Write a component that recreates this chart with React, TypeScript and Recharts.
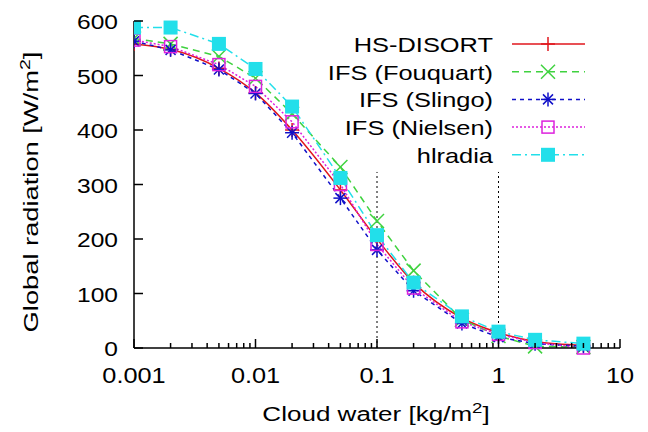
import { LineChart, Line, XAxis, YAxis, ReferenceLine, Legend } from 'recharts'

// Wolkenwasser-Stützstellen (kg/m²)
const cloudWater = [0.001, 0.002, 0.005, 0.01, 0.02, 0.05, 0.1, 0.2, 0.5, 1, 2, 5]

const hsDisort = [558, 548, 513, 468, 400, 290, 200, 120, 55, 28, 12, 5]
const ifsFouquart = [568, 558, 535, 495, 430, 332, 233, 142, 52, 22, 3, 2]
const ifsSlingo = [563, 547, 511, 467, 395, 275, 180, 105, 45, 20, 8, 3]
const ifsNielsen = [565, 553, 520, 480, 415, 300, 190, 110, 48, 25, 10, 0]
const hlradia = [588, 588, 558, 512, 443, 312, 207, 120, 58, 30, 15, 8]

const xMajorTicks = [0.001, 0.01, 0.1, 1, 10]
const xMinorFactors = [2, 3, 4, 5, 6, 7, 8, 9]
const yTicks = [0, 100, 200, 300, 400, 500, 600]
const gridX = [0.1, 1]

const FONT = '"Liberation Sans", Arial, sans-serif'

const xAllTicks: number[] = []
xMajorTicks.forEach((d, i) => {
  xAllTicks.push(d)
  if (i < xMajorTicks.length - 1) xMinorFactors.forEach((f) => xAllTicks.push(+(d * f).toPrecision(3)))
})

const isMajor = (v: number) => xMajorTicks.some((m) => Math.abs(m - v) < 1e-9)

const data = cloudWater.map((x, i) => ({
  x,
  hs: hsDisort[i],
  fq: ifsFouquart[i],
  sl: ifsSlingo[i],
  ni: ifsNielsen[i],
  hl: hlradia[i],
}))

type Kind = 'plus' | 'cross' | 'star' | 'square' | 'filled'

const series: { key: string; name: string; color: string; dash?: string; kind: Kind; type: 'monotone' | 'linear' }[] = [
  { key: 'hs', name: 'HS-DISORT', color: '#e0161c', kind: 'plus', type: 'monotone' },
  { key: 'fq', name: 'IFS (Fouquart)', color: '#3fd23f', dash: '7 5', kind: 'cross', type: 'linear' },
  { key: 'sl', name: 'IFS (Slingo)', color: '#1010c8', dash: '4 4', kind: 'star', type: 'linear' },
  { key: 'ni', name: 'IFS (Nielsen)', color: '#dd22dd', dash: '2 2', kind: 'square', type: 'linear' },
  { key: 'hl', name: 'hlradia', color: '#22dfea', dash: '9 4 2 4', kind: 'filled', type: 'linear' },
]

// gnuplot-Schrift ist breiter als Arial -> horizontal strecken
function WideText({ x, y, size, sx, anchor, children, rotate }: any) {
  const tf = `translate(${x} ${y})${rotate ? ` rotate(${rotate})` : ''} scale(${sx} 1)`
  return (
    <text transform={tf} textAnchor={anchor} fontSize={size} fontFamily={FONT} fill="#000">
      {children}
    </text>
  )
}

function Marker({ cx, cy, kind, color }: { cx: number; cy: number; kind: Kind; color: string }) {
  const s = 7
  if (kind === 'plus')
    return (
      <g stroke={color} strokeWidth={1.5}>
        <line x1={cx - s} y1={cy} x2={cx + s} y2={cy} />
        <line x1={cx} y1={cy - s} x2={cx} y2={cy + s} />
      </g>
    )
  if (kind === 'cross')
    return (
      <g stroke={color} strokeWidth={1.5}>
        <line x1={cx - s} y1={cy - s} x2={cx + s} y2={cy + s} />
        <line x1={cx - s} y1={cy + s} x2={cx + s} y2={cy - s} />
      </g>
    )
  if (kind === 'star')
    return (
      <g stroke={color} strokeWidth={1.5}>
        <line x1={cx - s} y1={cy} x2={cx + s} y2={cy} />
        <line x1={cx} y1={cy - s} x2={cx} y2={cy + s} />
        <line x1={cx - 5} y1={cy - 5} x2={cx + 5} y2={cy + 5} />
        <line x1={cx - 5} y1={cy + 5} x2={cx + 5} y2={cy - 5} />
      </g>
    )
  if (kind === 'square')
    return <rect x={cx - 6} y={cy - 6} width={12} height={12} fill="none" stroke={color} strokeWidth={1.5} />
  return <rect x={cx - 7} y={cy - 7} width={14} height={14} fill={color} />
}

function XTickBottom(props: any) {
  const { x, y, payload } = props
  const major = isMajor(payload.value)
  return (
    <g>
      <line x1={x} y1={y} x2={x} y2={y - (major ? 9 : 5)} stroke="#000" strokeWidth={1.5} />
      {major && (
        <WideText x={x} y={y + 35} size={22} sx={1.15} anchor="middle">
          {payload.value}
        </WideText>
      )}
    </g>
  )
}

function XTickTop(props: any) {
  const { x, y, payload } = props
  const major = isMajor(payload.value)
  return <line x1={x} y1={y} x2={x} y2={y + (major ? 9 : 5)} stroke="#000" strokeWidth={1.5} />
}

function YTickLeft(props: any) {
  const { x, y, payload } = props
  return (
    <g>
      <line x1={x} y1={y} x2={x + 9} y2={y} stroke="#000" strokeWidth={1.5} />
      <WideText x={x - 16} y={y + 8} size={21} sx={1.17} anchor="end">
        {payload.value}
      </WideText>
    </g>
  )
}

function YTickRight(props: any) {
  const { x, y } = props
  return <line x1={x} y1={y} x2={x - 9} y2={y} stroke="#000" strokeWidth={1.5} />
}

function LegendBox() {
  return (
    <svg width={300} height={145} style={{ display: 'block' }}>
      {series.map((s, i) => {
        const y = 16 + i * 27.7
        return (
          <g key={s.key}>
            <WideText x={193} y={y + 8} size={21} sx={1.21} anchor="end">
              {s.name}
            </WideText>
            <line x1={212} y1={y} x2={285} y2={y} stroke={s.color} strokeWidth={1.5} strokeDasharray={s.dash} />
            <Marker cx={248} cy={y} kind={s.kind} color={s.color} />
          </g>
        )
      })}
    </svg>
  )
}

export default function App() {
  return (
    <div style={{ position: 'absolute', left: 0, top: 0, width: 648, height: 432, background: '#fff' }}>
      <LineChart width={648} height={432} data={data} margin={{ top: 21, right: 28, bottom: 0, left: 0 }}>
        <XAxis
          xAxisId={0}
          dataKey="x"
          type="number"
          scale="log"
          domain={[0.001, 10]}
          ticks={xAllTicks}
          interval={0}
          tickSize={0}
          tickMargin={0}
          tickLine={false}
          height={84}
          stroke="#000"
          strokeWidth={1.5}
          tick={<XTickBottom />}
          allowDataOverflow
        />
        <XAxis
          xAxisId="top"
          orientation="top"
          type="number"
          scale="log"
          domain={[0.001, 10]}
          ticks={xAllTicks}
          interval={0}
          tickSize={0}
          tickMargin={0}
          tickLine={false}
          height={0}
          stroke="#000"
          strokeWidth={1.5}
          tick={<XTickTop />}
          allowDataOverflow
        />
        <YAxis
          yAxisId={0}
          type="number"
          domain={[0, 600]}
          ticks={yTicks}
          interval={0}
          tickSize={0}
          tickMargin={0}
          tickLine={false}
          width={134}
          stroke="#000"
          strokeWidth={1.5}
          tick={<YTickLeft />}
        />
        <YAxis
          yAxisId="right"
          orientation="right"
          type="number"
          domain={[0, 600]}
          ticks={yTicks}
          interval={0}
          tickSize={0}
          tickMargin={0}
          tickLine={false}
          width={0}
          stroke="#000"
          strokeWidth={1.5}
          tick={<YTickRight />}
        />
        {gridX.map((gx) => (
          <ReferenceLine
            key={gx}
            segment={[
              { x: gx, y: 0 },
              { x: gx, y: 323 },
            ]}
            stroke="#000"
            strokeWidth={1}
            strokeDasharray="2 3"
          />
        ))}
        {series.map((s) => (
          <Line
            key={s.key}
            dataKey={s.key}
            name={s.name}
            type={s.type}
            stroke={s.color}
            strokeWidth={1.5}
            strokeDasharray={s.dash}
            isAnimationActive={false}
            dot={(p: any) => <Marker key={`${s.key}-${p.index}`} cx={p.cx} cy={p.cy} kind={s.kind} color={s.color} />}
            activeDot={false}
          />
        ))}
        <Legend
          layout="vertical"
          align="center"
          verticalAlign="middle"
          content={() => <LegendBox />}
          wrapperStyle={{ top: 28, left: 300, width: 300, height: 145, pointerEvents: 'none' }}
        />
        <WideText x={38} y={192} size={21} sx={1.3} anchor="middle" rotate={-90}>
          Global radiation [W/m<tspan dy={-8} fontSize={15}>2</tspan>
          <tspan dy={8}>]</tspan>
        </WideText>
        <WideText x={376} y={421} size={21} sx={1.24} anchor="middle">
          Cloud water [kg/m<tspan dy={-8} fontSize={15}>2</tspan>
          <tspan dy={8}>]</tspan>
        </WideText>
      </LineChart>
    </div>
  )
}
